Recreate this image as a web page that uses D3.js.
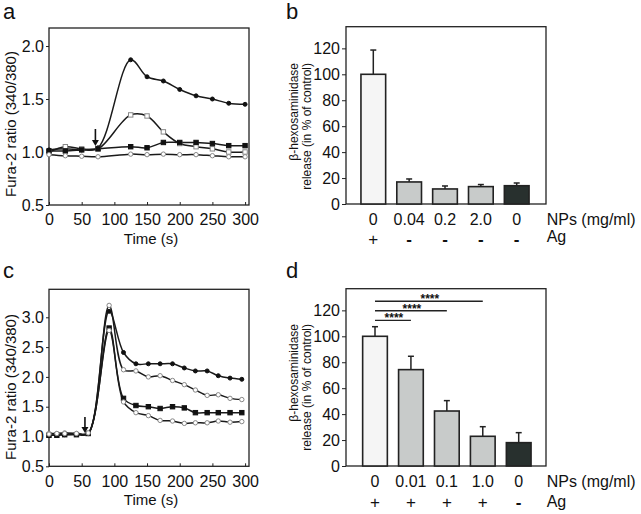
<!DOCTYPE html>
<html><head><meta charset="utf-8">
<script src="https://cdn.jsdelivr.net/npm/d3@7"></script>
<style>body{margin:0;background:#fff} text{font-family:"Liberation Sans",Arial,sans-serif;fill:#111}</style>
</head><body><svg id="chart" width="641" height="514"></svg>
<script>
// ---------- Panel a data ----------
const aTime = [0,25,50,75,125,150,175,200,225,250,275,300];
const aFilledCircle = [1.02,1.03,1.02,1.04,1.87,1.71,1.67,1.59,1.53,1.50,1.46,1.45];
const aOpenSquare   = [1.00,1.05,1.03,1.03,1.35,1.34,1.19,1.08,1.05,1.03,1.00,1.00];
const aFilledSquare = [1.01,1.01,1.02,1.03,1.05,1.04,1.09,1.09,1.09,1.08,1.06,1.06];
const aOpenCircle   = [0.975,0.965,0.96,0.955,0.98,0.975,0.98,0.975,0.975,0.965,0.955,0.955];
const aArrowTime = 71;
// ---------- Panel c data ----------
const cTime = [0,12,24,42,60,92,114,133,152,170,189,207,224,242,259,277,295];
const cFilledCircle = [1.02,1.03,1.03,1.04,1.05,3.10,2.41,2.22,2.22,2.22,2.22,2.15,2.10,2.10,2.02,1.98,1.96];
const cOpenCircleA  = [1.05,1.05,1.06,1.05,1.05,3.20,2.12,2.10,2.00,2.02,1.94,1.87,1.78,1.69,1.70,1.64,1.62];
const cFilledSquare = [1.02,1.02,1.03,1.03,1.05,2.82,1.64,1.52,1.50,1.47,1.50,1.48,1.40,1.40,1.40,1.40,1.40];
const cOpenCircleB  = [1.04,1.05,1.05,1.05,1.06,2.78,1.58,1.40,1.35,1.27,1.26,1.22,1.23,1.23,1.26,1.24,1.25];
const cArrowTime = 55;
const timeTicks = [0,50,100,150,200,250,300];
// ---------- Panel b data ----------
const bNP  = ["0","0.04","0.2","2.0","0"];
const bAg  = ["+","-","-","-","-"];
const bVal = [100,17,11.6,13.4,14.1];
const bErr = [18.7,2.3,2.3,1.6,2.1];
// ---------- Panel d data ----------
const dNP  = ["0","0.01","0.1","1.0","0"];
const dAg  = ["+","+","+","+","-"];
const dVal = [100,74.3,42.4,22.9,18];
const dErr = [7.4,10.3,8.0,7.4,7.7];
const dSig = [[0,1,112.3],[0,2,119.7],[0,3,127]];
const barColors = ["#f5f5f5","#c8cbca","#c8cbca","#c8cbca","#28302e"];
const pctTicks = [0,20,40,60,80,100,120];

const svg = d3.select("#chart");

function letter(t,x,y){ svg.append("text").attr("x",x).attr("y",y).attr("font-size",22).text(t); }

function linePanel(o){
  const x = d3.scaleLinear().domain([0,306]).range([o.left,o.right]);
  const y = d3.scaleLinear().domain(o.ydom).range([o.bottom,o.top]);
  const g = svg.append("g");
  g.append("g").attr("transform",`translate(0,${o.bottom})`)
    .call(d3.axisBottom(x).tickValues(timeTicks).tickFormat(d3.format("d")).tickSize(-3).tickPadding(9))
    .call(s=>{s.select(".domain").remove(); s.selectAll("line").attr("stroke","#222");
      s.selectAll("text").attr("font-size",16).attr("font-family","Liberation Sans, Arial").attr("fill","#111");});
  g.append("g").attr("transform",`translate(${o.left},0)`)
    .call(d3.axisLeft(y).tickValues(o.yticks).tickFormat(d3.format(".1f")).tickSize(3).tickPadding(2))
    .call(s=>{s.select(".domain").remove(); s.selectAll("line").attr("stroke","#222");
      s.selectAll("text").attr("font-size",16).attr("font-family","Liberation Sans, Arial").attr("fill","#111");});
  g.append("rect").attr("x",o.left).attr("y",o.top).attr("width",o.right-o.left).attr("height",o.bottom-o.top)
    .attr("fill","none").attr("stroke","#222").attr("stroke-width",1.3);
  const line = d3.line().x((d,i)=>x(o.time[i])).y(d=>y(d)).curve(d3.curveCatmullRom.alpha(0.5));
  o.series.forEach(s=>{
    g.append("path").attr("d",line(s.v)).attr("fill","none").attr("stroke","#1a1a1a").attr("stroke-width",1.5);
  });
  o.series.forEach(s=>{
    const m = g.append("g");
    s.v.forEach((v,i)=>{
      const cx=x(o.time[i]), cy=y(v);
      if(s.shape==="circle") m.append("circle").attr("cx",cx).attr("cy",cy).attr("r",s.fill?2:2.2)
        .attr("fill",s.fill?"#111":"#fff").attr("stroke",s.fill?"#111":"#888").attr("stroke-width",1);
      else m.append("rect").attr("x",cx-2.2).attr("y",cy-2.2).attr("width",4.4).attr("height",4.4)
        .attr("fill",s.fill?"#111":"#fff").attr("stroke",s.fill?"#111":"#888").attr("stroke-width",1);
    });
  });
  const ax=x(o.arrow);
  g.append("line").attr("x1",ax).attr("x2",ax).attr("y1",o.arrowY[0]).attr("y2",o.arrowY[1]-4).attr("stroke","#111").attr("stroke-width",1.6);
  g.append("path").attr("d",`M${ax-3.5},${o.arrowY[1]-6}L${ax},${o.arrowY[1]}L${ax+3.5},${o.arrowY[1]-6}Z`).attr("fill","#111");
  svg.append("text").attr("x",(o.left+o.right)/2+2).attr("y",o.xlabY).attr("text-anchor","middle").attr("font-size",15).text("Time (s)");
  svg.append("text").attr("transform",`translate(16,${o.ylabY}) rotate(-90)`).attr("text-anchor","middle").attr("font-size",15).text("Fura-2 ratio (340/380)");
}

function barPanel(o){
  const x = d3.scalePoint().domain(d3.range(o.val.length)).range(o.xr);
  const y = d3.scaleLinear().domain([0,136.7]).range([o.bottom,o.top]);
  const bw = 24.7;
  const g = svg.append("g");
  g.append("g").attr("transform",`translate(${o.left},0)`)
    .call(d3.axisLeft(y).tickValues(pctTicks).tickSize(4).tickPadding(2))
    .call(s=>{s.select(".domain").remove(); s.selectAll("line").attr("stroke","#222");
      s.selectAll("text").attr("font-size",16).attr("font-family","Liberation Sans, Arial").attr("fill","#111");});
  g.append("rect").attr("x",o.left).attr("y",o.top).attr("width",o.right-o.left).attr("height",o.bottom-o.top)
    .attr("fill","none").attr("stroke","#222").attr("stroke-width",1.3);
  o.val.forEach((v,i)=>{
    const cx=x(i);
    g.append("line").attr("x1",cx).attr("x2",cx).attr("y1",y(v)).attr("y2",y(v+o.err[i])).attr("stroke","#222").attr("stroke-width",1.5);
    g.append("line").attr("x1",cx-3).attr("x2",cx+3).attr("y1",y(v+o.err[i])).attr("y2",y(v+o.err[i])).attr("stroke","#222").attr("stroke-width",1.5);
    g.append("rect").attr("x",cx-bw/2).attr("y",y(v)).attr("width",bw).attr("height",y(0)-y(v))
      .attr("fill",barColors[i]).attr("stroke","#222").attr("stroke-width",1.6);
    svg.append("text").attr("x",cx).attr("y",o.bottom+21).attr("text-anchor","middle").attr("font-size",16).text(o.np[i]);
    svg.append("text").attr("x",cx).attr("y",o.bottom+o.agDy).attr("text-anchor","middle").attr("font-size",17).attr("font-weight",o.ag[i]==="+"?"normal":"bold").text(o.ag[i]);
  });
  (o.sig||[]).forEach(s=>{
    const x1=x(s[0]), x2=x(s[1]), yy=y(s[2]);
    g.append("line").attr("x1",x1).attr("x2",x2).attr("y1",yy).attr("y2",yy).attr("stroke","#222").attr("stroke-width",1.4);
    g.append("text").attr("x",(x1+x2)/2+1).attr("y",yy+1.8).attr("text-anchor","middle").attr("font-size",12).attr("font-weight","bold").text("****");
  });
  svg.append("text").attr("x",o.right+0.7).attr("y",o.bottom+21).attr("font-size",16).text("NPs (mg/ml)");
  svg.append("text").attr("x",o.right+0.7).attr("y",o.bottom+o.agLabDy).attr("font-size",16).text("Ag");
  svg.append("text").attr("transform",`translate(298,${o.ylabTop}) rotate(-90)`).attr("text-anchor","end").attr("font-size",12).text("β-hexosaminidase");
  svg.append("text").attr("transform",`translate(311,${o.ylabTop}) rotate(-90)`).attr("text-anchor","end").attr("font-size",12).text("release (in % of control)");
}

letter("a",3,19); letter("b",286,19); letter("c",3,277.5); letter("d",286,277.5);

linePanel({left:49,right:249,top:28,bottom:205,ydom:[0.5,2.17],yticks:[0.5,1.0,1.5,2.0],time:aTime,
  series:[{v:aFilledCircle,shape:"circle",fill:true},{v:aOpenSquare,shape:"square",fill:false},
          {v:aFilledSquare,shape:"square",fill:true},{v:aOpenCircle,shape:"circle",fill:false}],
  arrow:aArrowTime,arrowY:[129,146],xlabY:243.5,ylabY:124});
linePanel({left:49,right:249,top:289.3,bottom:466.3,ydom:[0.5,3.47],yticks:[0.5,1.0,1.5,2.0,2.5,3.0],time:cTime,
  series:[{v:cFilledCircle,shape:"circle",fill:true},{v:cOpenCircleA,shape:"circle",fill:false},
          {v:cFilledSquare,shape:"square",fill:true},{v:cOpenCircleB,shape:"circle",fill:false}],
  arrow:cArrowTime,arrowY:[417,433],xlabY:505,ylabY:387});

barPanel({left:346,right:546,top:26.7,bottom:204,xr:[373.3,516.7],val:bVal,err:bErr,np:bNP,ag:bAg,agDy:41,agLabDy:38,ylabTop:63});
barPanel({left:346,right:546,top:288.7,bottom:466,xr:[375,518.7],val:dVal,err:dErr,np:dNP,ag:dAg,agDy:42,agLabDy:41,sig:dSig,ylabTop:324});
</script></body></html>
